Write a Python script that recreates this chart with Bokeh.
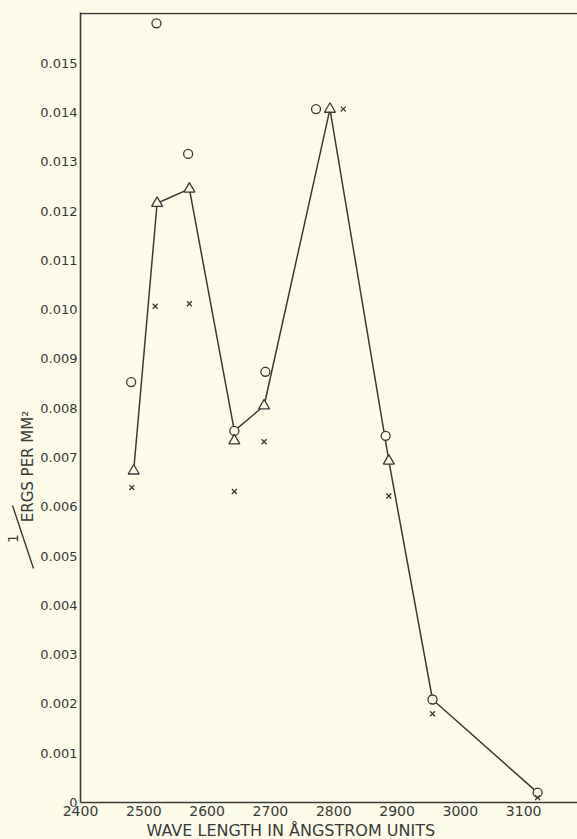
import math
from bokeh.plotting import figure
from bokeh.layouts import row
from bokeh.models import FixedTicker, Span, Range1d, Title, GlobalInlineStyleSheet
from bokeh.core.properties import value
from bokeh.embed import file_html
from bokeh.resources import INLINE

BG = "#fcfbe9"
INK = "#3a3a3a"

# circles (o)
circle_wl = [2480, 2520, 2570, 2643, 2692, 2772, 2882, 2956, 3122]
circle_val = [0.00853, 0.01581, 0.01316, 0.00754, 0.00874, 0.01407, 0.00744, 0.00209, 0.00020]
# triangles
tri_wl = [2484, 2521, 2572, 2643, 2690, 2794, 2887]
tri_val = [0.00673, 0.01216, 0.01245, 0.00734, 0.00805, 0.01407, 0.00693]
# crosses (x)
cross_wl = [2481, 2518, 2572, 2643, 2690, 2815, 2887, 2956, 3122]
cross_val = [0.00639, 0.01007, 0.01012, 0.00631, 0.00732, 0.01407, 0.00622, 0.00180, 0.00010]
# connecting curve
curve_wl = [2484, 2521, 2572, 2643, 2690, 2794, 2887, 2956, 3122]
curve_val = [0.00673, 0.01216, 0.01245, 0.00754, 0.00805, 0.01407, 0.00693, 0.00209, 0.00020]

x_ticks = [2400, 2500, 2600, 2700, 2800, 2900, 3000, 3100]
x_tick_labels = ["2400", "2500", "2600", "2700", "2800", "2900", "3000", "3100"]
y_ticks = [0, 0.001, 0.002, 0.003, 0.004, 0.005, 0.006, 0.007, 0.008,
           0.009, 0.010, 0.011, 0.012, 0.013, 0.014, 0.015]
y_tick_labels = ["0", "0.001", "0.002", "0.003", "0.004", "0.005", "0.006", "0.007",
                 "0.008", "0.009", "0.010", "0.011", "0.012", "0.013", "0.014", "0.015"]

x_title = "WAVE LENGTH IN ÅNGSTROM UNITS"
y_title = "ERGS PER MM²"
y_title_num = "1"

H = 839
LW = 37           # width of the strip holding the y-axis title
W = 577 - LW
TOP, BOTTOM = 12, 802   # page rows of the plot frame
X0, X1 = 2400, 3185
Y0, Y1 = 0, 0.01603

# ---- strip on the left with the "1 / ERGS PER MM²" title (pixel coordinates) ----
lt = figure(width=LW, height=H, output_backend="svg", toolbar_location=None,
            x_range=Range1d(0, LW), y_range=Range1d(H - BOTTOM, H - TOP),
            x_axis_location=None, y_axis_location=None,
            min_border=0, background_fill_color=BG, border_fill_color=BG,
            outline_line_color=None)
lt.grid.visible = False
lt.text(x=[27], y=[H - 466], text=[y_title], angle=math.pi / 2,
        text_align="center", text_baseline="middle", text_font_size="15px",
        text_color=INK, text_font=value("DejaVu Sans"))
lt.text(x=[12], y=[H - 538], text=[y_title_num], angle=math.pi / 2,
        text_align="center", text_baseline="middle", text_font_size="14px",
        text_color=INK, text_font=value("DejaVu Sans"))
lt.segment(x0=[12], y0=[H - 505], x1=[33], y1=[H - 568], line_color=INK, line_width=1.4)

# ---- main chart ----
p = figure(width=W, height=H, output_backend="svg", toolbar_location=None,
           x_range=Range1d(X0, X1), y_range=Range1d(Y0, Y1),
           min_border_left=79 - LW, min_border_right=0, min_border_top=TOP,
           min_border_bottom=H - BOTTOM,
           background_fill_color=BG, border_fill_color=BG, outline_line_color=None)
p.grid.visible = False

for ax in (p.xaxis[0], p.yaxis[0]):
    ax.axis_line_color = INK
    ax.axis_line_width = 1.6
    ax.major_tick_in = 0
    ax.major_tick_out = 0
    ax.minor_tick_in = 0
    ax.minor_tick_out = 0
    ax.major_label_text_color = INK
    ax.major_label_text_font = "DejaVu Sans"

p.xaxis.ticker = FixedTicker(ticks=x_ticks)
p.xaxis.major_label_overrides = {t: s for t, s in zip(x_ticks, x_tick_labels)}
p.xaxis.major_label_text_font_size = "14px"
p.xaxis.major_label_standoff = 3

p.yaxis.ticker = FixedTicker(ticks=y_ticks)
p.yaxis.major_label_overrides = {t: s for t, s in zip(y_ticks, y_tick_labels)}
p.yaxis.major_label_text_font_size = "13px"
p.yaxis.major_label_standoff = 3

p.add_layout(Title(text=x_title, align="left", offset=66, standoff=0,
                   text_font_size="16px", text_font="DejaVu Sans",
                   text_font_style="normal", text_color=INK), "below")

p.add_layout(Span(location=0.01601, dimension="width", line_color=INK, line_width=1.5))

p.line(curve_wl, curve_val, line_color=INK, line_width=1.5)
p.scatter(circle_wl, circle_val, marker="circle", size=9, line_color=INK,
          line_width=1.3, fill_color=BG)
p.scatter(tri_wl, tri_val, marker="triangle", size=11, line_color=INK,
          line_width=1.3, fill_color=BG)
p.scatter(cross_wl, cross_val, marker="x", size=7, line_color=INK, line_width=1.3)

layout = row(lt, p, spacing=0)
layout.stylesheets = [GlobalInlineStyleSheet(
    css="html,body{margin:0;padding:0;overflow:hidden;background:%s;}" % BG)]

open("out.html", "w").write(file_html(layout, INLINE))
